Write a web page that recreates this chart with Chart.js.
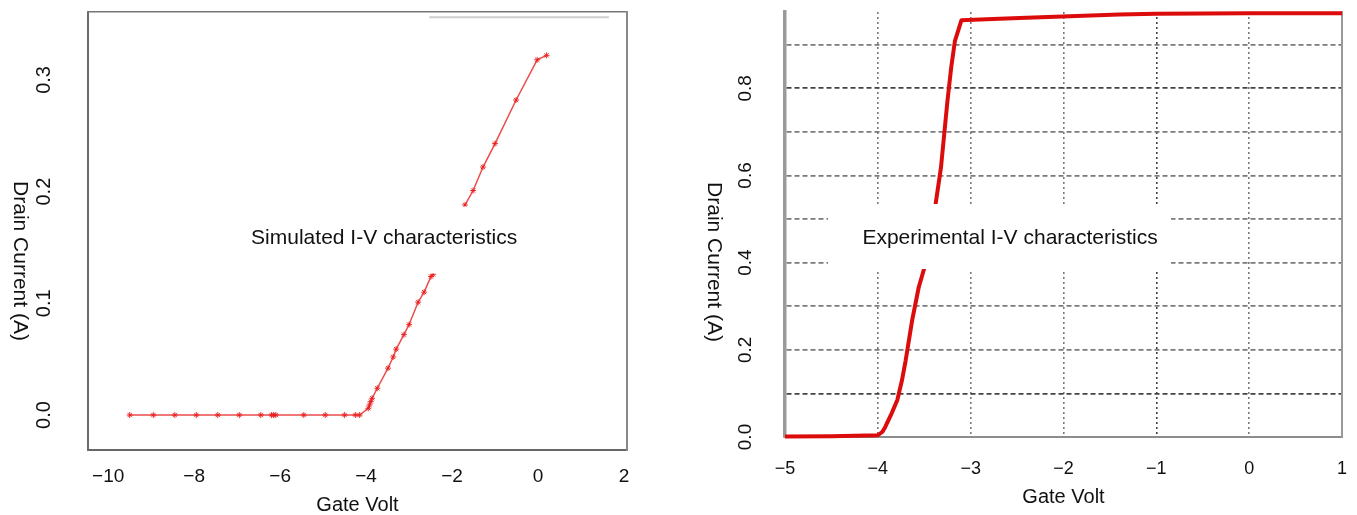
<!DOCTYPE html>
<html>
<head>
<meta charset="utf-8">
<title>I-V characteristics</title>
<script src="https://cdn.jsdelivr.net/npm/chart.js@4.4.1/dist/chart.umd.min.js"></script>
<style>
  html, body { margin: 0; padding: 0; background: #fff; }
  #wrap { position: relative; width: 1357px; height: 515px; overflow: hidden; }
  canvas { position: absolute; top: 0; }
  #simChart { left: 0; }
  #expChart { left: 680px; }
</style>
</head>
<body>
<div id="wrap">
  <canvas id="simChart" width="680" height="515"></canvas>
  <canvas id="expChart" width="677" height="515"></canvas>
</div>
<script>
// left panel: simulated curve
const simVolt = [-9.5, -8.95, -8.45, -7.95, -7.45, -6.95, -6.45, -6.2, -6.15, -6.1, -5.45, -4.95, -4.5, -4.25, -4.15,
  -3.95, -3.92, -3.89, -3.86, -3.74, -3.49, -3.37, -3.3, -3.12, -3.0, -2.79, -2.65, -2.49, -2.44,
  -1.7, -1.51, -1.28, -1.0, -0.51, -0.02, 0.2]
const simCurrent = [0, 0, 0, 0, 0, 0, 0, 0, 0, 0, 0, 0, 0, 0, 0,
  0.006, 0.009, 0.012, 0.015, 0.024, 0.042, 0.052, 0.059, 0.072, 0.081, 0.101, 0.110, 0.124, 0.126,
  0.188, 0.201, 0.222, 0.243, 0.282, 0.318, 0.322]
// faint grey stroke near the top of the left panel
const simTraceVolt = [-2.53, 1.65]
const simTraceCurrent = [0.356, 0.356]
const simXTicks = [-10, -8, -6, -4, -2, 0, 2]
const simYTicks = [0, 0.1, 0.2, 0.3]

// right panel: experimental curve
const expVolt = [-5.0, -4.5, -4.0, -3.95, -3.92, -3.86, -3.79, -3.74, -3.70, -3.63,
  -3.56, -3.50, -3.44, -3.38, -3.32, -3.25, -3.21, -3.17, -3.10, -2.76,
  -2.4, -1.86, -1.4, -1.0, 0.0, 1.0]
const expCurrent = [0.001, 0.002, 0.004, 0.012, 0.023, 0.05, 0.085, 0.13, 0.176, 0.268,
  0.343, 0.387, 0.46, 0.531, 0.618, 0.771, 0.847, 0.908, 0.956, 0.959,
  0.962, 0.966, 0.969, 0.971, 0.972, 0.972]
const expXTicks = [-5, -4, -3, -2, -1, 0, 1]
const expYGrid = [0, 0.1, 0.2, 0.3, 0.4, 0.5, 0.6, 0.7, 0.8, 0.9]
const expYLabels = [0, 0.2, 0.4, 0.6, 0.8]

const FONT = "'Liberation Sans', Arial, Helvetica, sans-serif"
const TEXT = '#111'

function toPoints(xs, ys) {
  return xs.map((x, i) => ({ x: x, y: ys[i] }))
}
function minusSign(v) {
  return String(v).replace('-', '\u2212')
}
function setTicks(list) {
  return function (scale) {
    scale.ticks = list.map(v => ({ value: v }))
  }
}
// fixed axis size, no extra label overhang padding
function fixSize(size) {
  return function (scale) {
    if (scale.isHorizontal()) scale.height = size
    else scale.width = size
    scale.paddingTop = 0
    scale.paddingBottom = 0
    scale.paddingLeft = 0
    scale.paddingRight = 0
  }
}

// white label box over the plot + clockwise y title
const overlayText = {
  id: 'overlayText',
  afterDatasetsDraw(chart, args, opts) {
    const ctx = chart.ctx
    const lab = opts.label
    const px = chart.scales.x.getPixelForValue(lab.x)
    const py = chart.scales.y.getPixelForValue(lab.y)
    ctx.save()
    ctx.fillStyle = '#fff'
    ctx.fillRect(px - lab.box[0], py - lab.box[1], lab.box[0] + lab.box[2], lab.box[1] + lab.box[3])
    ctx.fillStyle = TEXT
    ctx.font = '21px ' + FONT
    ctx.textAlign = 'center'
    ctx.textBaseline = 'middle'
    ctx.fillText(lab.text, px, py)
    ctx.restore()
  },
  afterDraw(chart, args, opts) {
    const ctx = chart.ctx
    const t = opts.yTitle
    ctx.save()
    ctx.translate(t.x, t.y)
    ctx.rotate(Math.PI / 2)
    ctx.fillStyle = TEXT
    ctx.font = '21px ' + FONT
    ctx.textAlign = 'center'
    ctx.textBaseline = 'middle'
    ctx.fillText(t.text, 0, 0)
    ctx.restore()
  }
}

const frameAxis = (position, color, width) => ({
  type: 'linear',
  position: position,
  display: true,
  ticks: { display: false },
  grid: { display: false },
  border: { display: true, color: color, width: width },
  afterFit: fixSize(0),
})

// ---------- simulated ----------
const simCtx = document.getElementById('simChart').getContext('2d')
const simConfig = {
  type: 'line',
  data: {
    datasets: [
      {
        label: 'Simulated',
        data: toPoints(simVolt, simCurrent),
        xAxisID: 'x',
        yAxisID: 'y',
        borderColor: 'rgba(232, 45, 45, 0.85)',
        borderWidth: 1.5,
        tension: 0,
        pointStyle: 'star',
        pointRadius: 3,
        pointBorderWidth: 1,
        pointBorderColor: 'rgba(232, 30, 30, 0.9)',
        pointBackgroundColor: 'rgba(232, 30, 30, 0.9)',
      },
      {
        label: 'trace',
        data: toPoints(simTraceVolt, simTraceCurrent),
        xAxisID: 'x',
        yAxisID: 'y',
        borderColor: '#cfcfcf',
        borderWidth: 2,
        pointRadius: 0,
      },
    ],
  },
  options: {
    responsive: false,
    animation: false,
    events: [],
    devicePixelRatio: 1,
    layout: { padding: { left: 0, top: 12, right: 53, bottom: 0 } },
    plugins: {
      legend: { display: false },
      tooltip: { enabled: false },
      overlayText: {
        label: { text: 'Simulated I-V characteristics', x: -3.58, y: 0.158, box: [144, 32, 146, 35] },
        yTitle: { text: 'Drain Current (A)', x: 20, y: 261 },
      },
    },
    scales: {
      x: {
        type: 'linear',
        min: -10.47,
        max: 2.07,
        afterBuildTicks: setTicks(simXTicks),
        grid: { display: false, drawTicks: false },
        border: { color: '#666', width: 2 },
        ticks: {
          padding: 15,
          color: TEXT,
          font: { family: FONT, size: 19 },
          callback: v => minusSign(v),
        },
        title: {
          display: true,
          text: 'Gate Volt',
          color: TEXT,
          font: { family: FONT, size: 20, lineHeight: 1 },
          padding: 0,
        },
        afterFit: fixSize(65),
      },
      y: {
        type: 'linear',
        min: -0.0313,
        max: 0.3608,
        afterBuildTicks: setTicks(simYTicks),
        grid: { display: false, drawTicks: false },
        border: { color: '#6a6a6a', width: 2 },
        ticks: {
          padding: 30,
          minRotation: 90,
          maxRotation: 90,
          crossAlign: 'center',
          autoSkip: false,
          color: TEXT,
          font: { family: FONT, size: 20 },
          callback: v => v.toFixed(1),
        },
        afterFit: fixSize(88),
      },
      x2: frameAxis('top', '#777', 1.5),
      y2: frameAxis('right', '#888', 2),
    },
  },
  plugins: [overlayText],
}

// ---------- experimental ----------
const expCtx = document.getElementById('expChart').getContext('2d')
const expConfig = {
  type: 'line',
  data: {
    datasets: [
      {
        label: 'Experimental',
        data: toPoints(expVolt, expCurrent),
        xAxisID: 'x',
        yAxisID: 'y',
        borderColor: '#dc0c0c',
        borderWidth: 4,
        borderJoinStyle: 'round',
        tension: 0,
        pointRadius: 0,
        clip: false,
      },
    ],
  },
  options: {
    responsive: false,
    animation: false,
    events: [],
    devicePixelRatio: 1,
    layout: { padding: { left: 0, top: 12, right: 15, bottom: 0 } },
    plugins: {
      legend: { display: false },
      tooltip: { enabled: false },
      overlayText: {
        label: { text: 'Experimental I-V characteristics', x: -2.576, y: 0.4565, box: [182, 34, 161, 31] },
        yTitle: { text: 'Drain Current (A)', x: 34, y: 262 },
      },
    },
    scales: {
      x: {
        type: 'linear',
        min: -5,
        max: 1,
        afterBuildTicks: setTicks(expXTicks),
        grid: {
          drawTicks: false,
          lineWidth: 1.6,
          color: c => {
            const v = c.tick ? c.tick.value : null
            if (v === -5 || v === 1) return 'rgba(0,0,0,0)'
            return v === -1 ? '#444' : '#7a7a7a'
          },
        },
        border: { color: '#8c8c8c', width: 2, dash: [2, 3] },
        ticks: {
          padding: 21,
          color: TEXT,
          font: { family: FONT, size: 18 },
          callback: v => minusSign(v),
        },
        title: {
          display: true,
          text: 'Gate Volt',
          color: TEXT,
          font: { family: FONT, size: 20, lineHeight: 1 },
          padding: { top: 0, bottom: 8 },
        },
        afterFit: fixSize(78),
      },
      y: {
        type: 'linear',
        min: 0,
        max: 0.975,
        afterBuildTicks: setTicks(expYGrid),
        grid: {
          drawTicks: false,
          lineWidth: 1.8,
          color: c => {
            const v = c.tick ? Math.round(c.tick.value * 10) : null
            if (v === 0) return 'rgba(0,0,0,0)'
            return (v === 1 || v === 8) ? '#444' : '#7a7a7a'
          },
        },
        border: { color: '#9a9a9a', width: 3.5, dash: [5, 3] },
        ticks: {
          padding: 26,
          minRotation: 90,
          maxRotation: 90,
          crossAlign: 'center',
          autoSkip: false,
          color: TEXT,
          font: { family: FONT, size: 19 },
          callback: v => {
            const shown = expYLabels.some(l => Math.abs(l - v) < 1e-6)
            return shown ? v.toFixed(1) : ''
          },
        },
        afterFit: fixSize(105),
      },
      y2: frameAxis('right', '#999', 2),
    },
  },
  plugins: [overlayText],
}

const simChart = new Chart(simCtx, simConfig)
const expChart = new Chart(expCtx, expConfig)
</script>
</body>
</html>
